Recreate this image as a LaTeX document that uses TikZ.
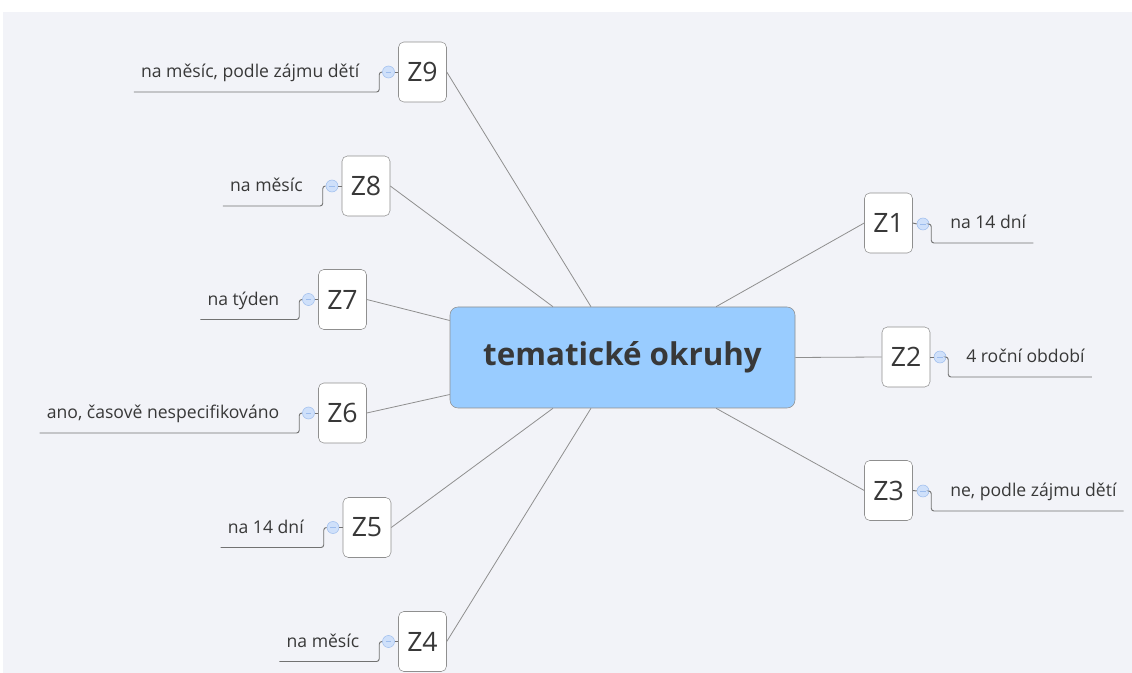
\documentclass[tikz,border=0pt]{standalone}
\usepackage{fontspec}
\setmainfont{Open Sans}
\usetikzlibrary{calc}
\definecolor{paper}{HTML}{F2F3F8}
\definecolor{rootfill}{HTML}{99CCFF}
\definecolor{ink}{HTML}{383838}
\definecolor{wire}{HTML}{8F8F8F}
\definecolor{knobfill}{HTML}{CFE0FA}
\definecolor{knobline}{HTML}{9DBDEE}

\begin{document}
\begin{tikzpicture}
		[x=0.75pt,y=-0.75pt,
		root/.style ={rectangle, draw=wire, fill=rootfill, rounded corners=6pt, minimum width=258.75pt, minimum height=75.75pt, text=ink, font=\fontsize{23.5}{28}\selectfont\bfseries},
		zbox/.style ={rectangle, draw=wire, fill=white, rounded corners=4pt, minimum width=36pt, minimum height=45pt, inner sep=0pt, text=ink, font=\fontsize{20}{24}\selectfont},
		knob/.style ={circle, draw=knobline, fill=knobfill, minimum size=9pt, inner sep=0pt,
		path picture={\draw[knobline] ([xshift=-2pt]path picture bounding box.center) -- ([xshift=2pt]path picture bounding box.center);}},
		topic/.style ={inner xsep=5.25pt, inner ysep=7.5pt, text height=9.5pt, text depth=3pt, text=ink, font=\fontsize{13.2}{16}\selectfont},
		link/.style ={draw=wire, line width=0.6pt},
		stem/.style ={draw=wire!80!black, line width=0.7pt, rounded corners=2pt},
		]

		\useasboundingbox (0,0) rectangle (1132,673);
		\fill[paper] (3,12) rectangle (1140,680);

		\draw (622.5,357.5) node[root] (root) {tematické okruhy};

		% right side
		\draw (888.5,223) node[zbox] (Z1) {Z1};
		\draw (906,357) node[zbox] (Z2) {Z2};
		\draw (888.5,490.5) node[zbox] (Z3) {Z3};
		\draw (923,224) node[knob] (K1) {};
		\draw (940,357) node[knob] (K2) {};
		\draw (923,491) node[knob] (K3) {};
		\draw (943,243) node[topic,anchor=south west] (T1) {na 14 dní};
		\draw (959,377) node[topic,anchor=south west] (T2) {4 roční období};
		\draw (943,511) node[topic,anchor=south west] (T3) {ne, podle zájmu dětí};

		% left side
		\draw (422.5,72) node[zbox] (Z9) {Z9};
		\draw (366,186) node[zbox] (Z8) {Z8};
		\draw (342.5,299.5) node[zbox] (Z7) {Z7};
		\draw (342.5,413) node[zbox] (Z6) {Z6};
		\draw (367,527.5) node[zbox] (Z5) {Z5};
		\draw (422.5,641.5) node[zbox] (Z4) {Z4};
		\draw (388.5,72) node[knob] (K9) {};
		\draw (332,186) node[knob] (K8) {};
		\draw (308.5,299.5) node[knob] (K7) {};
		\draw (308.5,413) node[knob] (K6) {};
		\draw (333,527.5) node[knob] (K5) {};
		\draw (388.5,641.5) node[knob] (K4) {};
		\draw (366.5,92) node[topic,anchor=south east] (T9) {na měsíc, podle zájmu dětí};
		\draw (310,206) node[topic,anchor=south east] (T8) {na měsíc};
		\draw (286.5,319.5) node[topic,anchor=south east] (T7) {na týden};
		\draw (286.5,433) node[topic,anchor=south east] (T6) {ano, časově nespecifikováno};
		\draw (311,547.5) node[topic,anchor=south east] (T5) {na 14 dní};
		\draw (366.5,661.5) node[topic,anchor=south east] (T4) {na měsíc};

		\path[link]
		($(root.north)+(93.5,0)$) edge (Z1.west)
		(root.east) edge (Z2.west)
		($(root.south)+(93.5,0)$) edge (Z3.west)
		($(root.north)+(-31.5,0)$) edge (Z9.east)
		($(root.north)+(-69.5,0)$) edge (Z8.east)
		($(root.west)+(0,-37)$) edge (Z7.east)
		($(root.west)+(0,37)$) edge (Z6.east)
		($(root.south)+(-69.5,0)$) edge (Z5.east)
		($(root.south)+(-31.5,0)$) edge (Z4.east);

		\foreach \i in {1,2,3} {
			\draw[stem] (Z\i.east) -- (K\i.west);
			\draw[stem] (K\i.east) -- ++(2,0) |- (T\i.south east);
		}
		\foreach \i in {4,...,9} {
			\draw[stem] (Z\i.west) -- (K\i.east);
			\draw[stem] (K\i.west) -- ++(-3,0) |- (T\i.south west);
		}

	\end{tikzpicture}
\end{document}
